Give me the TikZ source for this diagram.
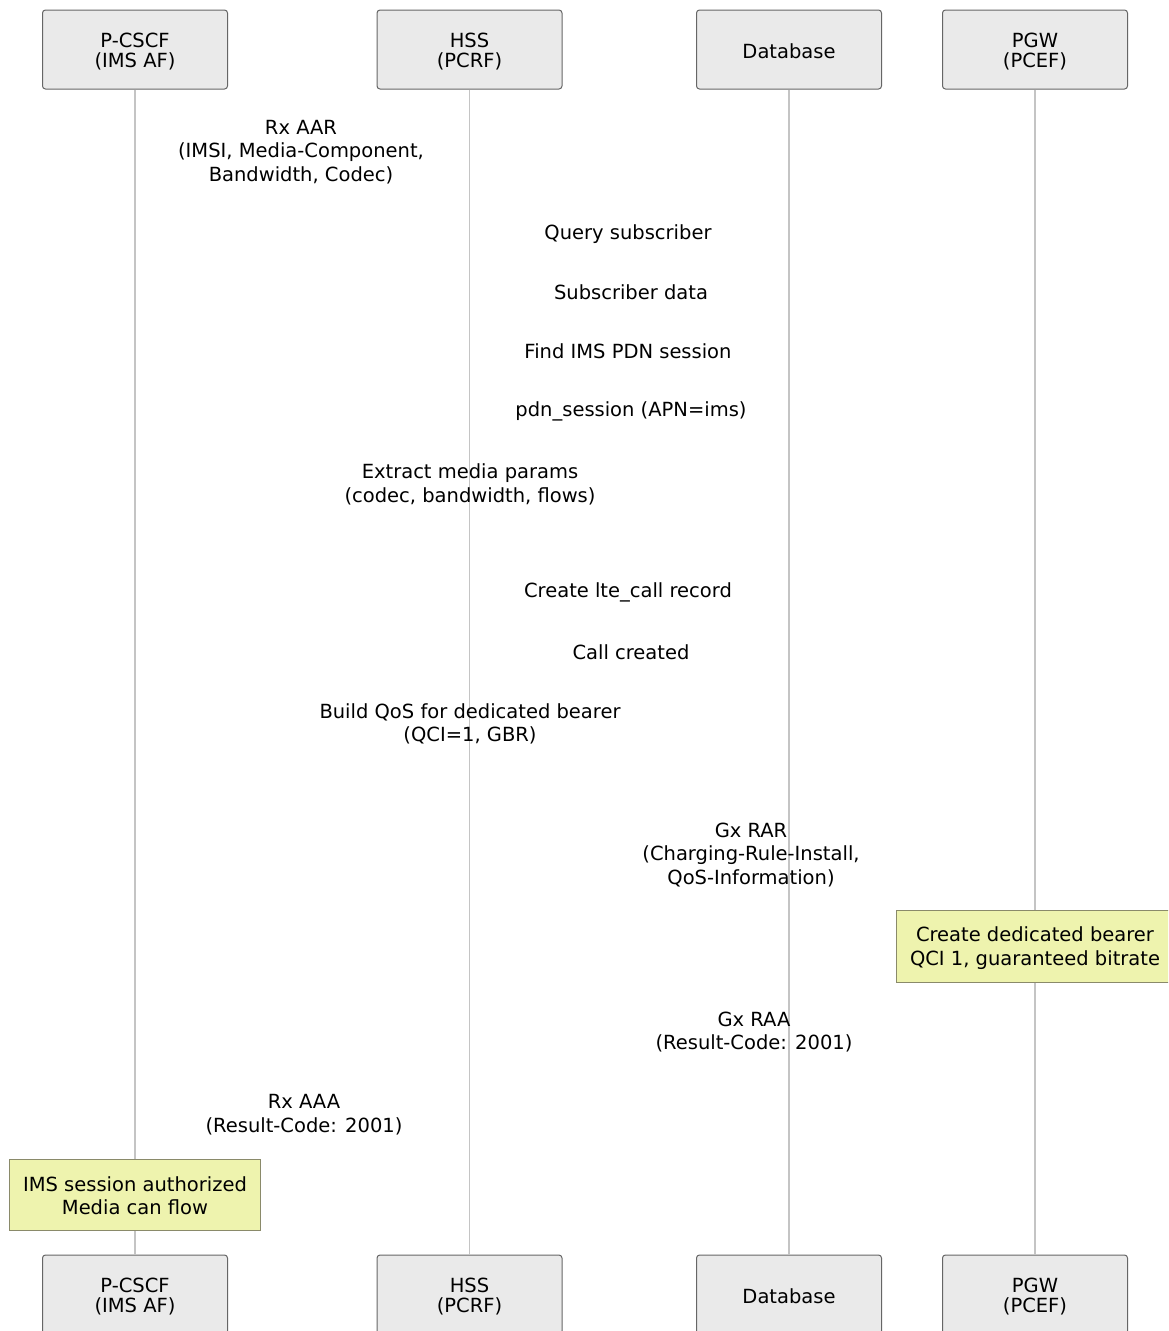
\documentclass[tikz,border=0pt]{standalone}
\usepackage{fontspec}
\setmainfont{DejaVu Sans}
\definecolor{actorfill}{HTML}{EAEAEA}
\definecolor{actorline}{HTML}{666666}
\definecolor{lifeline}{HTML}{C4C4C4}
\definecolor{notefill}{HTML}{EEF3AE}
\definecolor{noteline}{HTML}{8A8A6A}
\begin{document}
\begin{tikzpicture}[x=1pt,y=-1pt,
  actor/.style={draw=actorline,line width=1pt,fill=actorfill,rounded corners=3pt,
    minimum width=185pt,minimum height=79pt,inner sep=0pt},
  actortext/.style={align=center,inner sep=0pt,yshift=-2pt,
    font=\fontsize{19.5}{20}\selectfont},
  msg/.style={align=center,inner sep=0pt,font=\fontsize{19.5}{23.5}\selectfont},
  note/.style={draw=noteline,line width=0.8pt,fill=notefill,align=center,inner sep=0pt,
    font=\fontsize{19.5}{23.5}\selectfont},
  life/.style={draw=lifeline,line width=1.3pt}]
\clip (0,0) rectangle (1168,1331);
\fill[white] (0,0) rectangle (1168,1331);

% participants, top row
\node[actor] (pcscf) at (135,49.5) {};
\node[actor] (hss)   at (469.5,49.5) {};
\node[actor] (db)    at (789,49.5) {};
\node[actor] (pgw)   at (1035,49.5) {};
\node[actortext] (pcscfT) at (pcscf.center) {P-CSCF\\(IMS AF)};
\node[actortext] (hssT)   at (hss.center) {HSS\\(PCRF)};
\node[actortext] (dbT)    at (db.center) {Database};
\node[actortext] (pgwT)   at (pgw.center) {PGW\\(PCEF)};

% participants, bottom row
\node[actor] (pcscfB) at (135,1294.5) {};
\node[actor] (hssB)   at (469.5,1294.5) {};
\node[actor] (dbB)    at (789,1294.5) {};
\node[actor] (pgwB)   at (1035,1294.5) {};
\node[actortext] (pcscfBT) at (pcscfB.center) {P-CSCF\\(IMS AF)};
\node[actortext] (hssBT)   at (hssB.center) {HSS\\(PCRF)};
\node[actortext] (dbBT)    at (dbB.center) {Database};
\node[actortext] (pgwBT)   at (pgwB.center) {PGW\\(PCEF)};

% lifelines
\draw[life] (pcscf.south) -- (pcscfB.north);
\draw[life] (hss.south) -- (hssB.north);
\draw[life] (db.south) -- (dbB.north);
\draw[life] (pgw.south) -- (pgwB.north);

% message labels
\node[msg] (m1)  at (301,152) {Rx AAR\\(IMSI, Media-Component,\\Bandwidth, Codec)};
\node[msg] (m2)  at (628,234) {Query subscriber};
\node[msg] (m3)  at (631,292.5) {Subscriber data};
\node[msg] (m4)  at (628,351.5) {Find IMS PDN session};
\node[msg] (m5)  at (631,411) {pdn\_session (APN=ims)};
\node[msg] (m6)  at (470,484.5) {Extract media params\\(codec, bandwidth, flows)};
\node[msg] (m7)  at (628,592) {Create lte\_call record};
\node[msg] (m8)  at (631,652.5) {Call created};
\node[msg] (m9)  at (470,724) {Build QoS for dedicated bearer\\(QCI=1, GBR)};
\node[msg] (m10) at (751,855) {Gx RAR\\(Charging-Rule-Install,\\QoS-Information)};
\node[msg] (m11) at (754,1032) {Gx RAA\\(Result-Code: 2001)};
\node[msg] (m12) at (304,1114.5) {Rx AAA\\(Result-Code: 2001)};

% notes
\node[note,minimum width=278pt,minimum height=72pt] (n1) at (1035,946) {};
\node[msg] (n1T) at ([yshift=-2pt]n1.center) {Create dedicated bearer\\QCI 1, guaranteed bitrate};
\node[note,minimum width=251pt,minimum height=71pt] (n2) at (135,1194.5) {};
\node[msg] (n2T) at ([yshift=-1pt]n2.center) {IMS session authorized\\Media can flow};
\end{tikzpicture}
\end{document}
